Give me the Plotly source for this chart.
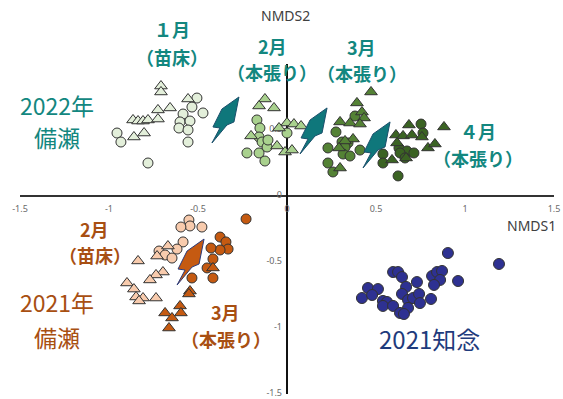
import plotly.graph_objects as go

# ---------------- data (NMDS coordinates) ----------------
b22_jan_tri_x = [-0.708, -0.708, -0.556, -0.657, -0.725, -0.865, -0.837, -0.809, -0.781, -0.725, -0.860, -0.803]
b22_jan_tri_y = [0.833, 0.788, 0.735, 0.667, 0.652, 0.576, 0.568, 0.568, 0.576, 0.583, 0.447, 0.477]
b22_jan_cir_x = [-0.955, -0.933, -0.781, -0.506, -0.534, -0.472, -0.584, -0.601, -0.545, -0.607, -0.556, -0.556]
b22_jan_cir_y = [0.477, 0.409, 0.250, 0.742, 0.674, 0.629, 0.621, 0.561, 0.568, 0.515, 0.500, 0.409]

b22_feb_tri_x = [-0.124, -0.157, -0.073, -0.202, -0.056, -0.011, 0.028, 0.000, 0.039, 0.079, -0.045]
b22_feb_tri_y = [0.735, 0.682, 0.667, 0.455, 0.379, 0.333, 0.348, 0.553, 0.545, 0.530, 0.515]
b22_feb_cir_x = [-0.169, -0.152, -0.157, -0.140, -0.225, -0.157, -0.112, -0.124, 0.000, -0.107]
b22_feb_cir_y = [0.576, 0.515, 0.447, 0.409, 0.326, 0.326, 0.371, 0.265, 0.477, 0.424]

b22_mar_tri_x = [0.472, 0.393, 0.421, 0.433, 0.298, 0.354, 0.410, 0.371, 0.326, 0.292, 0.298]
b22_mar_tri_y = [0.788, 0.705, 0.636, 0.591, 0.561, 0.553, 0.545, 0.432, 0.417, 0.364, 0.212]
b22_mar_cir_x = [0.382, 0.275, 0.309, 0.343, 0.326, 0.230, 0.315, 0.354, 0.410, 0.230, 0.258]
b22_mar_cir_y = [0.606, 0.485, 0.409, 0.402, 0.371, 0.364, 0.318, 0.303, 0.348, 0.250, 0.182]

b22_apr_tri_x = [0.882, 0.685, 0.612, 0.652, 0.618, 0.702, 0.758, 0.792, 0.831, 0.590, 0.669]
b22_apr_tri_y = [0.523, 0.538, 0.462, 0.455, 0.402, 0.462, 0.447, 0.364, 0.394, 0.273, 0.288]
b22_apr_cir_x = [0.753, 0.764, 0.629, 0.674, 0.713, 0.539, 0.539, 0.635, 0.663, 0.624]
b22_apr_cir_y = [0.545, 0.477, 0.364, 0.341, 0.326, 0.318, 0.250, 0.326, 0.288, 0.152]

b21_feb_cir_x = [-0.551, -0.545, -0.596, -0.478, -0.584, -0.618, -0.719, -0.685, -0.646]
b21_feb_cir_y = [-0.182, -0.227, -0.235, -0.235, -0.348, -0.402, -0.417, -0.447, -0.470]
b21_feb_tri_x = [-0.669, -0.730, -0.837, -0.697, -0.736, -0.770, -0.899, -0.860, -0.848, -0.809, -0.831, -0.736]
b21_feb_tri_y = [-0.379, -0.455, -0.492, -0.576, -0.598, -0.636, -0.659, -0.705, -0.765, -0.773, -0.795, -0.773]

b21_mar_cir_x = [-0.230, -0.376, -0.343, -0.331, -0.376, -0.427, -0.416, -0.449, -0.416, -0.534]
b21_mar_cir_y = [-0.174, -0.311, -0.348, -0.402, -0.409, -0.394, -0.477, -0.545, -0.621, -0.621]
b21_mar_tri_x = [-0.416, -0.545, -0.551, -0.601, -0.596, -0.685, -0.646, -0.663]
b21_mar_tri_y = [-0.545, -0.720, -0.742, -0.833, -0.886, -0.886, -0.924, -1.000]

c21_x = [0.904, 1.191, 0.596, 0.624, 0.646, 0.730, 0.669, 0.961, 0.815, 0.843, 0.871, 0.860, 0.826,
         0.455, 0.511, 0.421, 0.478, 0.539, 0.562, 0.539, 0.596, 0.646, 0.680, 0.708, 0.742, 0.747,
         0.809, 0.680, 0.635, 0.657]
c21_y = [-0.432, -0.515, -0.576, -0.576, -0.614, -0.652, -0.689, -0.644, -0.606, -0.576, -0.568, -0.636, -0.674,
         -0.697, -0.705, -0.773, -0.750, -0.795, -0.803, -0.833, -0.833, -0.742, -0.788, -0.773, -0.742, -0.811,
         -0.780, -0.848, -0.886, -0.894]

# arrow (top tip) positions in NMDS units
arrow_x = [-0.270, 0.225, 0.579, -0.466]
arrow_y = [0.750, 0.667, 0.561, -0.326]

x_ticks = [-1.5, -1, -0.5, 0, 0.5, 1, 1.5]
x_tick_text = ["-1.5", "-1", "-0.5", "0", "0.5", "1", "1.5"]
y_ticks = [0.5, 0, -0.5, -1, -1.5]
y_tick_text = ["0.5", "0", "-0.5", "-1", "-1.5"]

# ---------------- styling ----------------
W, H = 563, 399
XR = [-1.6124, 1.5506]
YR = [-1.5379, 1.4848]
px_x = (XR[1] - XR[0]) / W   # data units per pixel
px_y = (YR[1] - YR[0]) / H

TEAL = "#13877f"
ARROW_TEAL = "#0f777b"
BROWN = "#a84f12"
NAVY = "#1f3b7c"
OUT = "#333333"
JP = "Noto Sans CJK JP"

fig = go.Figure()

# tick labels (under markers)
fig.add_trace(go.Scatter(x=x_ticks, y=[-0.106] * len(x_ticks), mode="text", text=x_tick_text,
                         textfont=dict(family="Noto Sans", size=9, color="#6a6a6a"),
                         hoverinfo="skip", showlegend=False))
fig.add_trace(go.Scatter(x=[-0.028] * len(y_ticks), y=y_ticks, mode="text", text=y_tick_text,
                         textposition="middle left",
                         textfont=dict(family="Noto Sans", size=9, color="#6a6a6a"),
                         hoverinfo="skip", showlegend=False))


def pts(x, y, sym, fill, size=10):
    fig.add_trace(go.Scatter(x=x, y=y, mode="markers", showlegend=False,
                             marker=dict(symbol=sym, size=size, color=fill,
                                         line=dict(color=OUT, width=1))))


pts(b22_jan_cir_x, b22_jan_cir_y, "circle", "#e3efda")
pts(b22_jan_tri_x, b22_jan_tri_y, "triangle-up", "#e3efda", 11)
pts(b22_feb_cir_x, b22_feb_cir_y, "circle", "#a9d18e")
pts(b22_feb_tri_x, b22_feb_tri_y, "triangle-up", "#a9d18e", 11)
pts(b22_mar_cir_x, b22_mar_cir_y, "circle", "#548235")
pts(b22_mar_tri_x, b22_mar_tri_y, "triangle-up", "#548235", 11)
pts(b22_apr_cir_x, b22_apr_cir_y, "circle", "#3b6323")
pts(b22_apr_tri_x, b22_apr_tri_y, "triangle-up", "#3b6323", 11)
pts(b21_feb_cir_x, b21_feb_cir_y, "circle", "#f8cbad")
pts(b21_feb_tri_x, b21_feb_tri_y, "triangle-up", "#f8cbad", 11)
pts(b21_mar_cir_x, b21_mar_cir_y, "circle", "#c55a11")
pts(b21_mar_tri_x, b21_mar_tri_y, "triangle-up", "#c55a11", 11)
pts(c21_x, c21_y, "circle", "#2e3192", 11)

# axis lines
shapes = [
    dict(type="line", x0=-1.5, x1=1.5, y0=0, y1=0, line=dict(color="#333333", width=2), layer="below"),
    dict(type="line", x0=0, x1=0, y0=-1.5, y1=1.0, line=dict(color="#111111", width=2), layer="below"),
]

# lightning-bolt arrows (pixel template, y downward)
bolt = [(0, 0), (-5, 25), (-12, 28), (-27, 46), (-19, 31), (-26, 30), (-17, 12)]
arrow_fill = [ARROW_TEAL, ARROW_TEAL, ARROW_TEAL, "#c55a11"]
arrow_line = ["#1b4f6b", "#1b4f6b", "#1b4f6b", "#2b3a7a"]
for ax_, ay_, fc, lc in zip(arrow_x, arrow_y, arrow_fill, arrow_line):
    path = ""
    for i, (dx, dy) in enumerate(bolt):
        path += ("M" if i == 0 else "L") + f"{ax_ + dx * px_x:.5f},{ay_ - dy * px_y:.5f} "
    path += "Z"
    shapes.append(dict(type="path", path=path, fillcolor=fc, line=dict(color=lc, width=1)))

# text labels
def label(x, y, text, color, size, bold=False, family=JP):
    fig.add_annotation(x=x, y=y, text=f"<b>{text}</b>" if bold else text, showarrow=False,
                       font=dict(family=family, size=size, color=color),
                       xanchor="center", yanchor="middle")


label(-0.646, 1.262, "１月", TEAL, 18, True)
label(-0.646, 1.050, "（苗床）", TEAL, 18, True)
label(-0.084, 1.140, "2月", TEAL, 18, True)
label(-0.084, 0.936, "（本張り）", TEAL, 18, True)
label(0.421, 1.125, "3月", TEAL, 18, True)
label(0.421, 0.929, "（本張り）", TEAL, 18, True)
label(1.073, 0.489, "４月", TEAL, 18, True)
label(1.073, 0.285, "（本張り）", TEAL, 18, True)
label(-1.292, 0.690, "2022年", TEAL, 23)
label(-1.292, 0.447, "備瀬", TEAL, 23)

label(-1.079, -0.250, "2月", BROWN, 18, True)
label(-1.079, -0.447, "（苗床）", BROWN, 18, True)
label(-0.343, -0.882, "3月", BROWN, 18, True)
label(-0.343, -1.087, "（本張り）", BROWN, 18, True)
label(-1.292, -0.800, "2021年", BROWN, 23)
label(-1.292, -1.068, "備瀬", BROWN, 23)

label(0.803, -1.076, "2021知念", NAVY, 24)

label(-0.006, 1.371, "NMDS2", "#404040", 14, family="Noto Sans")
label(1.371, -0.227, "NMDS1", "#404040", 14, family="Noto Sans")

fig.update_layout(
    width=W, height=H, autosize=False,
    margin=dict(l=0, r=0, t=0, b=0),
    paper_bgcolor="white", plot_bgcolor="white",
    shapes=shapes,
    xaxis=dict(range=XR, visible=False, fixedrange=True),
    yaxis=dict(range=YR, visible=False, fixedrange=True),
    showlegend=False,
)

fig.write_html("out.html")
